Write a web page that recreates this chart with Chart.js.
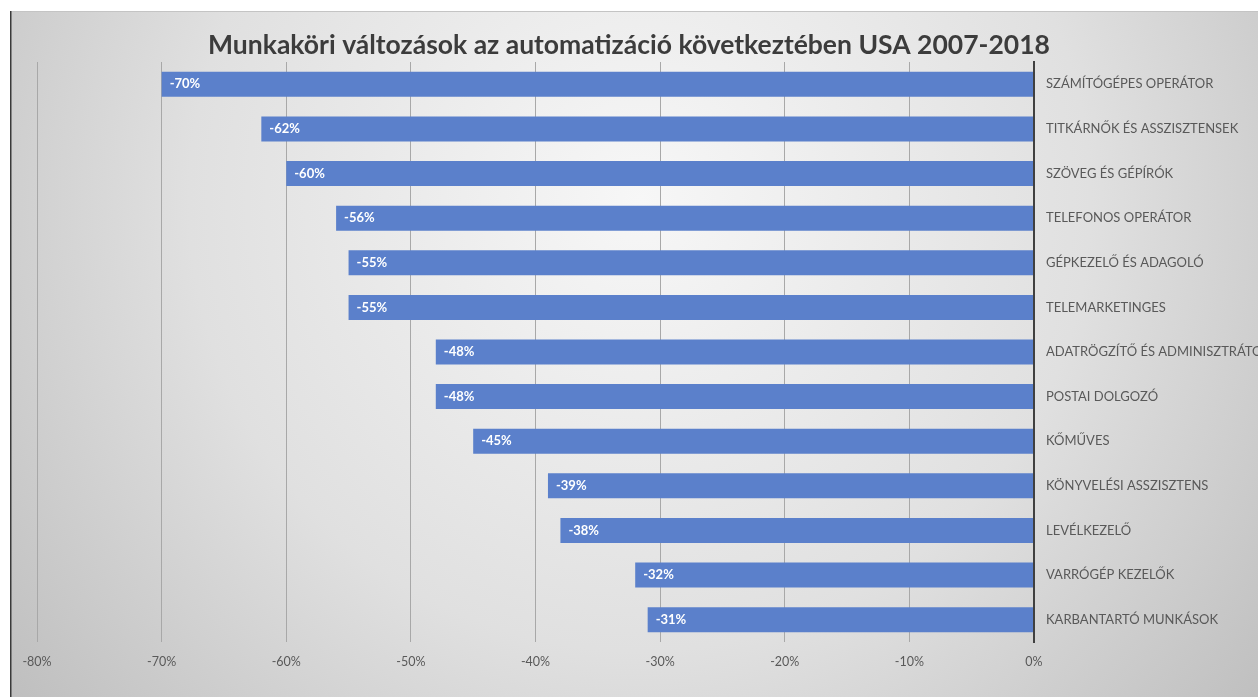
<!DOCTYPE html>
<html>
<head>
<meta charset="utf-8">
<script src="https://cdn.jsdelivr.net/npm/chart.js@4"></script>
<style>
    html, body { margin: 0; padding: 0; background: #fff; }
    #chartWrap { width: 1258px; height: 697px; }
</style>
</head>
<body>
<div id="chartWrap"><canvas id="jobChart" width="1258" height="697"></canvas></div>
<script>
// Chart data
const chartTitle = 'Munkaköri változások az automatizáció következtében USA 2007-2018';
const jobLabels = [
    'SZÁMÍTÓGÉPES OPERÁTOR',
    'TITKÁRNŐK ÉS ASSZISZTENSEK',
    'SZÖVEG ÉS GÉPÍRÓK',
    'TELEFONOS OPERÁTOR',
    'GÉPKEZELŐ ÉS ADAGOLÓ',
    'TELEMARKETINGES',
    'ADATRÖGZÍTŐ ÉS ADMINISZTRÁTOR',
    'POSTAI DOLGOZÓ',
    'KŐMŰVES',
    'KÖNYVELÉSI ASSZISZTENS',
    'LEVÉLKEZELŐ',
    'VARRÓGÉP KEZELŐK',
    'KARBANTARTÓ MUNKÁSOK'
];
const jobChange = [-70, -62, -60, -56, -55, -55, -48, -48, -45, -39, -38, -32, -31];
const axisTicks = [-80, -70, -60, -50, -40, -30, -20, -10, 0];

const fontFamily = 'Lato, "Open Sans", sans-serif';

// Grey framed background with a soft radial highlight
const backgroundPlugin = {
    id: 'slideBackground',
    beforeDraw(chart) {
        const ctx = chart.ctx;
        ctx.save();
        ctx.fillStyle = '#ffffff';
        ctx.fillRect(0, 0, chart.width, chart.height);
        const grad = ctx.createRadialGradient(640, 200, 0, 640, 200, 820);
        grad.addColorStop(0, '#f7f7f7');
        grad.addColorStop(0.55, '#e0e0e0');
        grad.addColorStop(1, '#bdbdbd');
        ctx.fillStyle = grad;
        ctx.fillRect(10, 11, chart.width - 10, chart.height - 11);
        // frame lines
        ctx.strokeStyle = '#c4c4c4';
        ctx.lineWidth = 1;
        ctx.beginPath();
        ctx.moveTo(10, 11.5);
        ctx.lineTo(chart.width, 11.5);
        ctx.stroke();
        ctx.strokeStyle = '#3a3a3a';
        ctx.lineWidth = 1.5;
        ctx.beginPath();
        ctx.moveTo(10.75, 11);
        ctx.lineTo(10.75, chart.height);
        ctx.stroke();
        ctx.restore();
    }
};

// Title drawn by hand so it can sit where the original one sits
const titlePlugin = {
    id: 'slideTitle',
    afterDraw(chart) {
        const ctx = chart.ctx;
        ctx.save();
        ctx.font = 'bold 26.5px ' + fontFamily;
        ctx.fillStyle = '#3c3c3c';
        ctx.textAlign = 'center';
        ctx.textBaseline = 'middle';
        ctx.fillText(chartTitle, 629, 45);
        ctx.restore();
    }
};

// Value labels at the outer end of each bar
const valueLabelPlugin = {
    id: 'valueLabels',
    afterDatasetsDraw(chart) {
        const ctx = chart.ctx;
        const meta = chart.getDatasetMeta(0);
        ctx.save();
        ctx.font = 'bold 13px ' + fontFamily;
        ctx.fillStyle = '#ffffff';
        ctx.textAlign = 'left';
        ctx.textBaseline = 'middle';
        meta.data.forEach((bar, i) => {
            ctx.fillText(jobChange[i] + '%', bar.x + 8, bar.y);
        });
        ctx.restore();
    }
};

function renderChart() {
    const ctx = document.getElementById('jobChart').getContext('2d');

    new Chart(ctx, {
        type: 'bar',
        data: {
            labels: jobLabels,
            datasets: [{
                data: jobChange,
                backgroundColor: '#5b80cb',
                borderWidth: 0,
                barPercentage: 0.56,
                categoryPercentage: 1
            }]
        },
        options: {
            indexAxis: 'y',
            responsive: false,
            animation: false,
            layout: {
                padding: { top: 62, left: 37, right: 0, bottom: 16 }
            },
            plugins: {
                legend: { display: false },
                title: { display: false },
                tooltip: { enabled: false }
            },
            scales: {
                x: {
                    min: axisTicks[0],
                    max: axisTicks[axisTicks.length - 1],
                    afterBuildTicks: (scale) => {
                        scale.ticks = axisTicks.map(v => ({ value: v }));
                    },
                    ticks: {
                        callback: (v) => v + '%',
                        color: '#595959',
                        font: { family: fontFamily, size: 12.5 },
                        padding: 12,
                        maxRotation: 0
                    },
                    grid: {
                        color: (c) => c.tick && c.tick.value === 0 ? '#404040' : '#a8a8a8',
                        lineWidth: (c) => c.tick && c.tick.value === 0 ? 2 : 1,
                        drawTicks: false
                    },
                    border: { display: false }
                },
                y: {
                    position: 'right',
                    afterFit: (scale) => { scale.width = 224; },
                    ticks: {
                        color: '#595959',
                        font: { family: fontFamily, size: 13 },
                        padding: 12,
                        crossAlign: 'near'
                    },
                    grid: { display: false, drawTicks: false },
                    border: { display: true, color: '#404040', width: 2 }
                }
            }
        },
        plugins: [backgroundPlugin, titlePlugin, valueLabelPlugin]
    });
}

renderChart();
</script>
</body>
</html>
